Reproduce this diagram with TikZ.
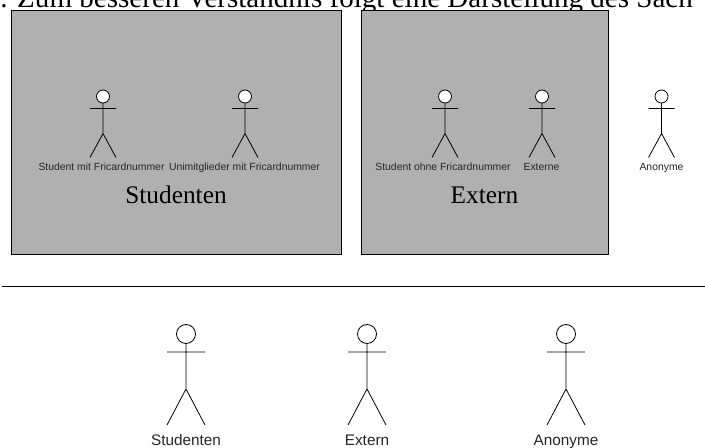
\documentclass[tikz,border=0pt]{standalone}
\usepackage{fontspec}
\setmainfont{Liberation Serif}
\setsansfont{Liberation Sans}

\tikzset{
  gruppe/.style={draw=black,fill=black!31,line width=0.6pt},
  kopf/.style={draw=black,fill=white,line width=0.6pt},
  strich/.style={draw=black,line width=0.6pt},
  klein/.style={font=\sffamily\fontsize{7.8}{9}\selectfont,text=black!85,anchor=base},
  mittel/.style={font=\sffamily\fontsize{11.5}{13}\selectfont,text=black!85,anchor=base},
  gross/.style={font=\rmfamily\fontsize{19}{22}\selectfont,anchor=base}
}
\newcommand{\kleinfigur}[1]{%
  \begin{scope}[shift={(#1)}]
    \draw [kopf] (0,-12) circle (6.5);
    \draw [strich] (0,-5.5) -- (0,25) -- (-13,49) (0,25) -- (13,49) (-13,0) -- (13,0);
  \end{scope}}
\newcommand{\grossfigur}[1]{%
  \begin{scope}[shift={(#1)}]
    \draw [kopf] (0,-18) circle (9.5);
    \draw [strich] (0,-8.5) -- (0,37) -- (-19,73) (0,37) -- (19,73) (-19,0) -- (19,0);
  \end{scope}}

\begin{document}
\begin{tikzpicture}[x=0.75pt,y=0.75pt,yscale=-1,xscale=1]
\useasboundingbox (0,0) rectangle (705,448);
\clip (0,0) rectangle (705,448);

% Text Node
\node (satz) [font=\rmfamily\fontsize{21.8}{25}\selectfont,anchor=base west,inner sep=0pt] at (0,8) {. Zum besseren Verständnis folgt eine Darstellung des Sach};

%Shape: Rectangle
\draw [gruppe] (11,10) rectangle (341,254);
\draw [gruppe] (361,10) rectangle (608,254);

%Shape: Actor
\kleinfigur{103,108.5}
\kleinfigur{245,108.5}
\kleinfigur{445,108.5}
\kleinfigur{542,108.5}
\kleinfigur{661.5,108.5}

% Text Node
\node (stmit) [klein] at (101.5,171) {Student mit Fricardnummer};
\node (unimit) [klein] at (244.5,171) {Unimitglieder mit Fricardnummer};
\node (stohne) [klein] at (443,171) {Student ohne Fricardnummer};
\node (externe) [klein] at (541.5,171) {Externe};
\node (anonyme) [klein] at (661.5,171) {Anonyme};
\node (studenten) [gross] at (176,204) {Studenten};
\node (extern) [gross] at (484.5,204) {Extern};

%Straight Lines
\coordinate (links) at (2,286.5);
\coordinate (rechts) at (705,286.5);
\draw [strich] (links) -- (rechts);

%Shape: Actor
\grossfigur{186,352}
\grossfigur{367,352}
\grossfigur{566,352}

% Text Node
\node (studentenb) [mittel] at (186,445) {Studenten};
\node (externb) [mittel] at (367,445) {Extern};
\node (anonymeb) [mittel] at (566,445) {Anonyme};

\end{tikzpicture}
\end{document}
